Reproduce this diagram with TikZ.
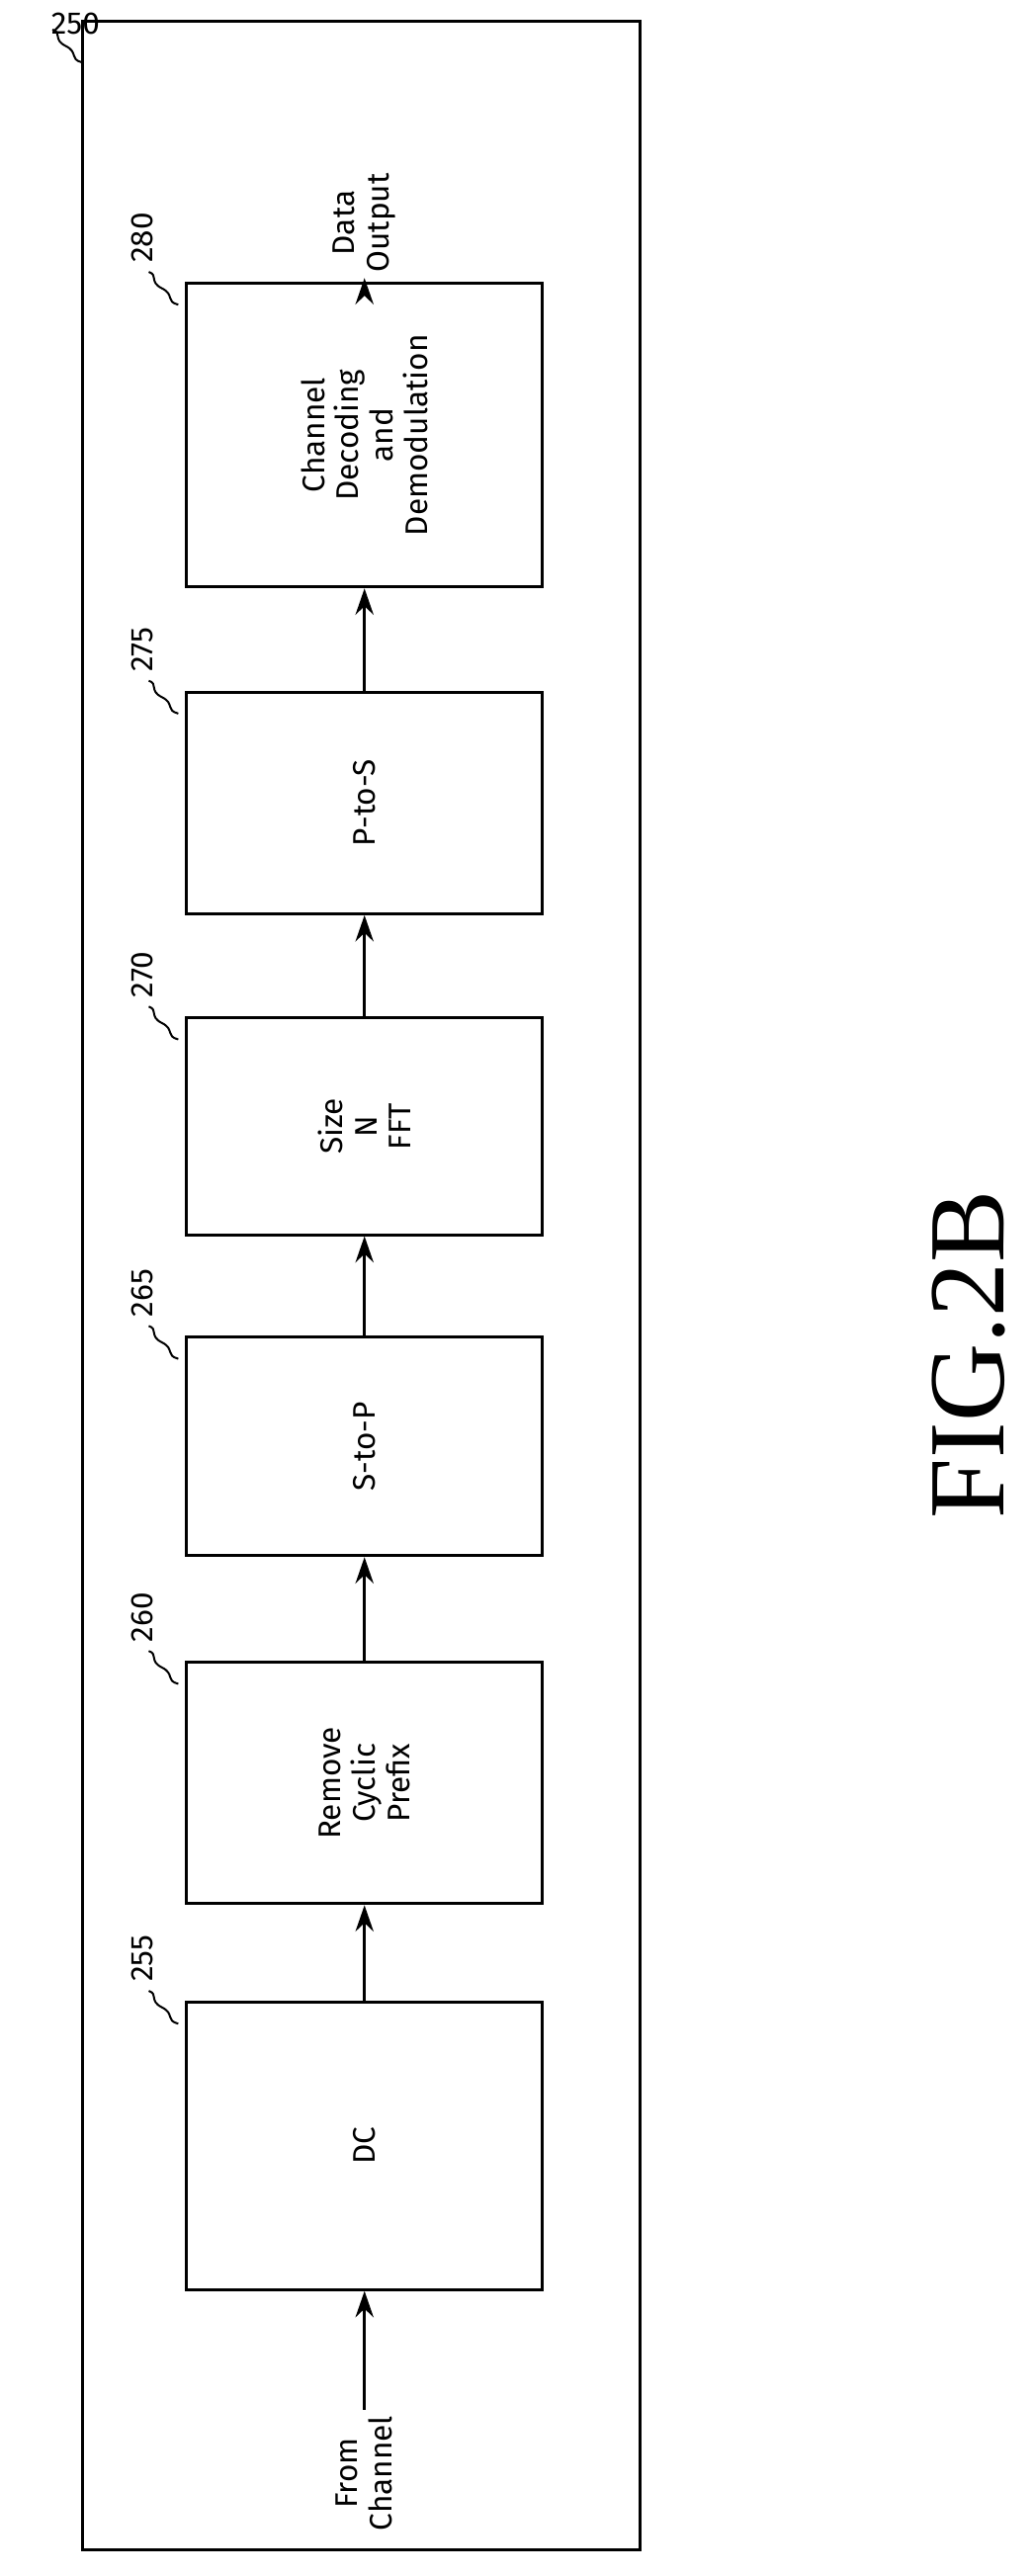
\documentclass[tikz,border=0pt]{standalone}
\usepackage{fontspec}
\setmainfont{Liberation Serif}
\newfontfamily\blkfont{Fira Sans}
\usetikzlibrary{arrows.meta,positioning,calc}
\tikzset{
  blk/.style={draw,line width=1.8pt,minimum width=217pt,inner sep=0pt},
  blktext/.style={rotate=90,align=center,font=\blkfont\fontsize{19}{21}\selectfont},
  reflabel/.style={rotate=90,font=\blkfont\fontsize{19}{21}\selectfont,anchor=west},
  flow/.style={-{Stealth[length=16pt,width=11pt]},line width=1.8pt}
}
\begin{document}
\begin{tikzpicture}[x=1pt,y=-1pt]
  \useasboundingbox (0,0) rectangle (628,1569);
  \draw[line width=1.8pt] (50,13) rectangle (390,1553);
  % blocks
  \node[blk,minimum height=185pt] (b280) at (222,265) {};
  \node[blk,minimum height=135pt] (b275) at (222,489) {};
  \node[blk,minimum height=132pt] (b270) at (222,686) {};
  \node[blk,minimum height=133pt] (b265) at (222,881) {};
  \node[blk,minimum height=147pt] (b260) at (222,1086) {};
  \node[blk,minimum height=175pt] (b255) at (222,1307) {};
  \node[blktext] at (b280) {Channel\\Decoding\\and\\Demodulation};
  \node[blktext] at (b275) {P-to-S};
  \node[blktext] at (b270) {Size\\N\\FFT};
  \node[blktext] at (b265) {S-to-P};
  \node[blktext] at (b260) {Remove\\Cyclic\\Prefix};
  \node[blktext] at (b255) {DC};
  % input and output
  \node[blktext,anchor=west] (in) at (222,1545) {From\\Channel};
  \node[blktext,anchor=east] (out) at (222,102) {Data\\Output};
  \draw[flow] (in) -- (b255);
  \draw[flow] (b255) -- (b260);
  \draw[flow] (b260) -- (b265);
  \draw[flow] (b265) -- (b270);
  \draw[flow] (b270) -- (b275);
  \draw[flow] (b275) -- (b280);
  \draw[flow] (b280) -- (out);
  % reference numerals
  \foreach \b/\t in {b280/280,b275/275,b270/270,b265/265,b260/260,b255/255}{
    \coordinate (\b-l) at ($(\b.north west)+(-4,14)$);
    \draw[line width=1.2pt] (\b-l) .. controls +(-8,-2) and +(8,4) .. ++(-10,-10) .. controls +(-8,-4) and +(6,2) .. ++(-8,-10) coordinate (\b-e);
    \node[reflabel] at ($(\b-e)+(-4,-2)$) {\t};
  }
  \coordinate (f-l) at (50,38);
  \draw[line width=1.2pt] (f-l) .. controls +(-8,-2) and +(8,4) .. ++(-10,-10) .. controls +(-8,-4) and +(6,2) .. ++(-8,-10) coordinate (f-e);
  \node[font=\blkfont\fontsize{19}{21}\selectfont,anchor=south west,inner sep=1pt] at ($(f-e)+(-2,4)$) {250};
  \node[rotate=90,font=\fontsize{66}{70}\selectfont] (fig) at (590,825) {FIG.2B};
\end{tikzpicture}
\end{document}
